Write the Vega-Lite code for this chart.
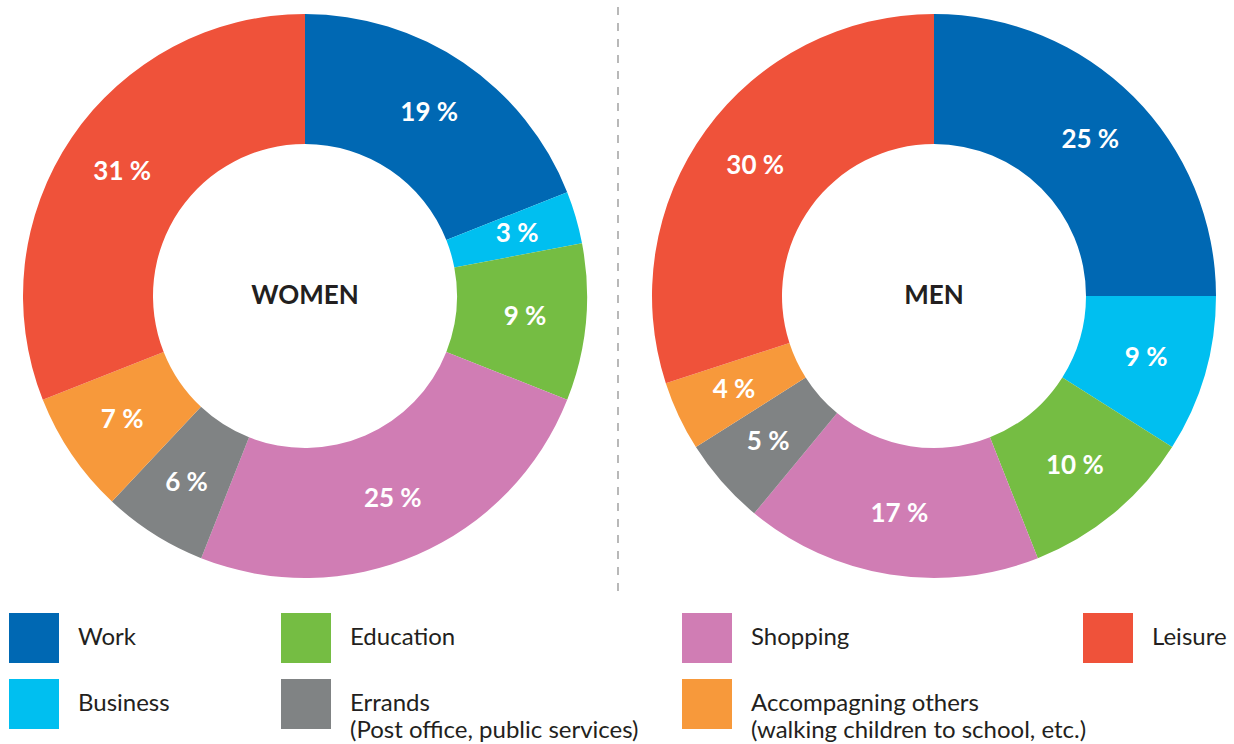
{
  "$schema": "https://vega.github.io/schema/vega-lite/v6.json",
  "padding": 0,
  "background": "white",
  "spacing": 0,
  "config": {"view": {"stroke": null}, "font": "Lato"},
  "datasets": {
    "slices": [
      {"gender": "WOMEN", "idx": 1, "category": "Work", "pct": 19, "label": "19 %"},
      {"gender": "WOMEN", "idx": 2, "category": "Business", "pct": 3, "label": "3 %"},
      {"gender": "WOMEN", "idx": 3, "category": "Education", "pct": 9, "label": "9 %"},
      {"gender": "WOMEN", "idx": 4, "category": "Shopping", "pct": 25, "label": "25 %"},
      {"gender": "WOMEN", "idx": 5, "category": "Errands", "pct": 6, "label": "6 %"},
      {"gender": "WOMEN", "idx": 6, "category": "Accompagning others", "pct": 7, "label": "7 %"},
      {"gender": "WOMEN", "idx": 7, "category": "Leisure", "pct": 31, "label": "31 %"},
      {"gender": "MEN", "idx": 1, "category": "Work", "pct": 25, "label": "25 %"},
      {"gender": "MEN", "idx": 2, "category": "Business", "pct": 9, "label": "9 %"},
      {"gender": "MEN", "idx": 3, "category": "Education", "pct": 10, "label": "10 %"},
      {"gender": "MEN", "idx": 4, "category": "Shopping", "pct": 17, "label": "17 %"},
      {"gender": "MEN", "idx": 5, "category": "Errands", "pct": 5, "label": "5 %"},
      {"gender": "MEN", "idx": 6, "category": "Accompagning others", "pct": 4, "label": "4 %"},
      {"gender": "MEN", "idx": 7, "category": "Leisure", "pct": 30, "label": "30 %"}
    ],
    "legend": [
      {"category": "Work", "col": 1, "row": 1, "text": "Work"},
      {"category": "Business", "col": 1, "row": 2, "text": "Business"},
      {"category": "Education", "col": 2, "row": 1, "text": "Education"},
      {"category": "Errands", "col": 2, "row": 2, "text": "Errands\n(Post office, public services)"},
      {"category": "Shopping", "col": 3, "row": 1, "text": "Shopping"},
      {"category": "Accompagning others", "col": 3, "row": 2, "text": "Accompagning others\n(walking children to school, etc.)"},
      {"category": "Leisure", "col": 4, "row": 1, "text": "Leisure"}
    ]
  },
  "vconcat": [
    {
      "spacing": 24,
      "bounds": "flush",
      "hconcat": [
        {
          "width": 610,
          "height": 590,
          "layer": [
            {
              "data": {"name": "slices"},
              "transform": [{"filter": "datum.gender === 'WOMEN'"}],
              "mark": {"type": "arc", "innerRadius": 152, "outerRadius": 282},
              "encoding": {
                "theta": {"field": "pct", "type": "quantitative", "stack": true},
                "order": {"field": "idx", "type": "quantitative"},
                "color": {
                  "field": "category", "type": "nominal", "legend": null,
                  "scale": {
                    "domain": ["Work", "Business", "Education", "Shopping", "Errands", "Accompagning others", "Leisure"],
                    "range": ["#0068b3", "#00bff0", "#75bd43", "#d07db4", "#808384", "#f7993b", "#ef523a"]
                  }
                }
              }
            },
            {
              "data": {"name": "slices"},
              "transform": [{"filter": "datum.gender === 'WOMEN'"}],
              "mark": {"type": "text", "radius": 221, "fontSize": 26, "fontWeight": "bold", "fill": "white", "align": "center", "baseline": "middle"},
              "encoding": {
                "theta": {"field": "pct", "type": "quantitative", "stack": true},
                "order": {"field": "idx", "type": "quantitative"},
                "text": {"field": "label", "type": "nominal"}
              }
            },
            {
              "data": {"values": [{"name": "WOMEN"}]},
              "mark": {"type": "text", "fontSize": 26, "fontWeight": "bold", "fill": "#231f20", "align": "center", "baseline": "middle"},
              "encoding": {"text": {"field": "name", "type": "nominal"}}
            },
            {
              "data": {"values": [{"name": "divider"}]},
              "mark": {"type": "rule", "stroke": "#8a8a8a", "strokeWidth": 1.2, "strokeDash": [8, 8], "strokeDashOffset": 10, "xOffset": 8},
              "encoding": {
                "x": {"value": "width"},
                "y": {"value": 0},
                "y2": {"value": "height"}
              }
            }
          ]
        },
        {
          "width": 600,
          "height": 590,
          "layer": [
            {
              "data": {"name": "slices"},
              "transform": [{"filter": "datum.gender === 'MEN'"}],
              "mark": {"type": "arc", "innerRadius": 152, "outerRadius": 282},
              "encoding": {
                "theta": {"field": "pct", "type": "quantitative", "stack": true},
                "order": {"field": "idx", "type": "quantitative"},
                "color": {"field": "category", "type": "nominal", "legend": null}
              }
            },
            {
              "data": {"name": "slices"},
              "transform": [{"filter": "datum.gender === 'MEN'"}],
              "mark": {"type": "text", "radius": 221, "fontSize": 26, "fontWeight": "bold", "fill": "white", "align": "center", "baseline": "middle"},
              "encoding": {
                "theta": {"field": "pct", "type": "quantitative", "stack": true},
                "order": {"field": "idx", "type": "quantitative"},
                "text": {"field": "label", "type": "nominal"}
              }
            },
            {
              "data": {"values": [{"name": "MEN"}]},
              "mark": {"type": "text", "fontSize": 26, "fontWeight": "bold", "fill": "#231f20", "align": "center", "baseline": "middle"},
              "encoding": {"text": {"field": "name", "type": "nominal"}}
            }
          ]
        }
      ]
    },
    {
      "width": 1234,
      "height": 152,
      "data": {"name": "legend"},
      "layer": [
        {
          "mark": {"type": "square", "size": 2500, "filled": true, "opacity": 1},
          "encoding": {
            "x": {"field": "col", "type": "quantitative", "axis": null, "scale": {"domain": [1, 2, 3, 4], "range": [34, 306, 707, 1108], "zero": false, "nice": false}},
            "y": {"field": "row", "type": "quantitative", "axis": null, "scale": {"domain": [1, 2], "range": [46, 112], "zero": false, "nice": false}},
            "color": {"field": "category", "type": "nominal", "legend": null}
          }
        },
        {
          "mark": {"type": "text", "align": "left", "baseline": "alphabetic", "dx": 44, "dy": 7, "fontSize": 24, "lineBreak": "\n", "lineHeight": 27, "fill": "#231f20"},
          "encoding": {
            "x": {"field": "col", "type": "quantitative"},
            "y": {"field": "row", "type": "quantitative"},
            "text": {"field": "text", "type": "nominal"}
          }
        }
      ]
    }
  ]
}
